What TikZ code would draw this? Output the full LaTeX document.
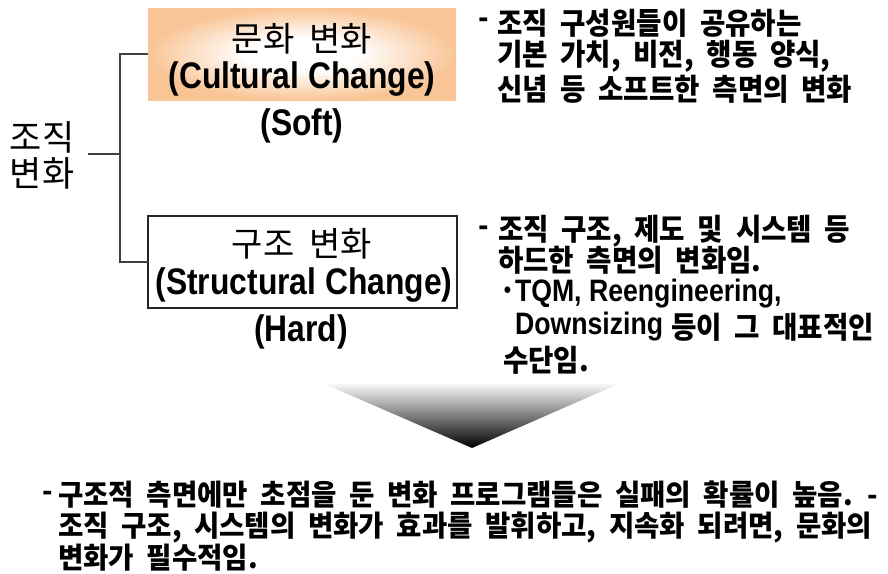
\documentclass[tikz,border=0pt]{standalone}
\usepackage{fontspec}
\newfontfamily\kr{Noto Sans CJK KR}[FakeStretch=0.92, WordSpace=2]
\newfontfamily\krb{Noto Sans CJK KR}[FakeStretch=0.95, WordSpace=2]
\newfontfamily\krt{Noto Sans CJK KR}[WordSpace=2]
\newfontfamily\lat{Liberation Sans}[FakeStretch=0.86]
\definecolor{orgc}{HTML}{F9C596}
\definecolor{linec}{HTML}{404040}
\pgfdeclareradialshading{orgshade}{\pgfpoint{0bp}{0bp}}{color(0bp)=(white); color(9bp)=(white); color(25bp)=(orgc); color(50bp)=(orgc)}
\tikzset{
  conn/.style={draw=linec, line width=1.7pt},
  plain/.style={inner sep=0pt, outer sep=0pt},
  titlekr/.style={plain, font=\krt\fontsize{34}{38}\selectfont},
  titlelat/.style={plain, font=\lat\bfseries\fontsize{37}{42}\selectfont},
  sidelbl/.style={plain, font=\lat\bfseries\fontsize{37}{42}\selectfont},
  rtxt/.style={plain, anchor=west, font=\kr\bfseries\fontsize{30}{34}\selectfont},
  rlat/.style={plain, anchor=west, font=\lat\bfseries\fontsize{31}{36}\selectfont},
  btxt/.style={plain, anchor=west, font=\krb\bfseries\fontsize{29}{34}\selectfont},
}
\begin{document}
\begin{tikzpicture}[x=1pt,y=-1pt]
\useasboundingbox (0,0) rectangle (888,573);
% left label
\node[plain, align=center, font=\krt\fontsize{35}{36}\selectfont] (org) at (42,155) {조직\\변화};
\coordinate (orgR) at (88,154);
\coordinate (jn) at (120,154);
% boxes
\node[plain, minimum width=308pt, minimum height=92pt, shading=orgshade] (cult) at (302,54) {};
\node[plain, draw=black!85, line width=1.6pt, fill=white, minimum width=309pt, minimum height=92pt] (struct) at (302.5,262) {};
\node[titlekr] (cultK) at (302,39) {문화 변화};
\node[titlelat] (cultE) at (302,79) {(Cultural Change)};
\node[sidelbl] (soft) at (302,126) {(Soft)};
\node[titlekr] (strK) at (302,244) {구조 변화};
\node[titlelat] (strE) at (304,285) {(Structural Change)};
\node[sidelbl] (hard) at (301,332) {(Hard)};
% connectors
\draw[conn] (orgR) -- (jn);
\draw[conn] (cult.west) -| (jn);
\draw[conn] (struct.west) -| (jn);
% right text 1
\node[rtxt] (d1) at (478,23) {-};
\node[rtxt] (r1a) at (497,23) {조직 구성원들이 공유하는};
\node[rtxt] (r1b) at (497,56) {기본 가치, 비전, 행동 양식,};
\node[rtxt] (r1c) at (497,89) {신념 등 소프트한 측면의 변화};
% right text 2
\node[rtxt] (d2) at (478,231) {-};
\node[rtxt] (r2a) at (498,231) {조직 구조, 제도 및 시스템 등};
\node[rtxt] (r2b) at (498,260) {하드한 측면의 변화임.};
\node[rtxt] (dot) at (499,294) {·};
\node[rlat] (r2c) at (515,294) {TQM, Reengineering,};
\node[rlat] (r2d) at (515,327) {Downsizing};
\node[rtxt] (r2e) at (r2d.east) [xshift=8pt] {등이 그 대표적인};
\node[rtxt] (r2f) at (503,360) {수단임.};
% gradient triangle
\shade[top color=white, middle color=black!22, bottom color=black] (320,382) -- (623,382) -- (472,448) -- cycle;
% bottom text
\node[btxt] (d3) at (42,496) {-};
\node[btxt] (b1) at (58,495) {구조적 측면에만 초점을 둔 변화 프로그램들은 실패의 확률이 높음. -};
\node[btxt] (b2) at (58,527) {조직 구조, 시스템의 변화가 효과를 발휘하고, 지속화 되려면, 문화의};
\node[btxt] (b3) at (58,558) {변화가 필수적임.};
\end{tikzpicture}
\end{document}
